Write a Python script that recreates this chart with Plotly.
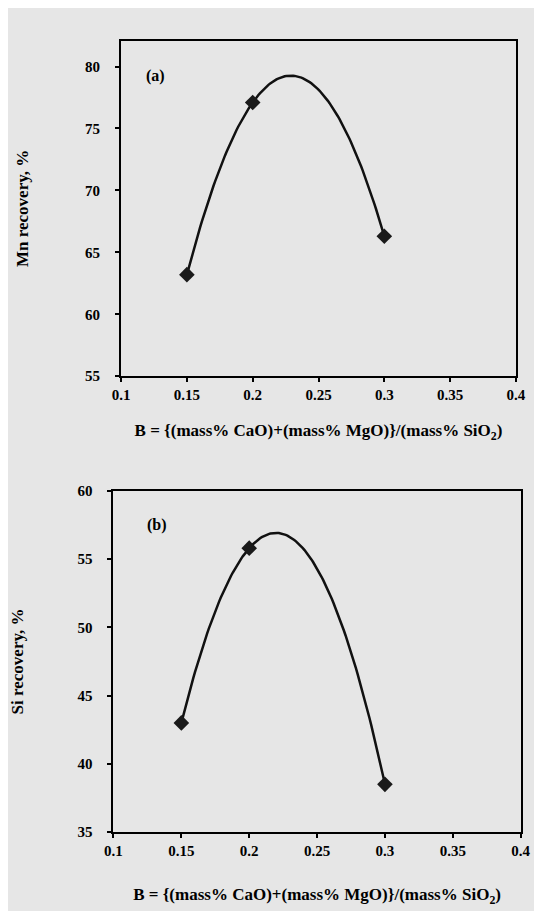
import numpy as np
import plotly.graph_objects as go

# data
basicity = [0.15, 0.2, 0.3]
mn_recovery = [63.2, 77.1, 66.3]
si_recovery = [43.0, 55.8, 38.5]

x_ticks = [0.1, 0.15, 0.2, 0.25, 0.3, 0.35, 0.4]
mn_ticks = [55, 60, 65, 70, 75, 80]
si_ticks = [35, 40, 45, 50, 55, 60]

x_title = "B = {(mass% CaO)+(mass% MgO)}/(mass% SiO<sub>2</sub>)"
FONT = "Liberation Serif, Times New Roman, serif"


def trend(x, y):
    # 2nd order polynomial trendline, drawn over the data span
    coef = np.polyfit(x, y, 2)
    xs = np.linspace(min(x), max(x), 120)
    return xs, np.polyval(coef, xs)


fig = go.Figure()

for xa, ya, yvals in [("x", "y", mn_recovery), ("x2", "y2", si_recovery)]:
    tx, ty = trend(basicity, yvals)
    fig.add_trace(go.Scatter(
        x=tx, y=ty, mode="lines", xaxis=xa, yaxis=ya,
        line=dict(color="#111111", width=2.5), hoverinfo="skip"
    ))
    fig.add_trace(go.Scatter(
        x=basicity, y=yvals, mode="markers", xaxis=xa, yaxis=ya,
        marker=dict(symbol="diamond", size=12, color="#1a1a1a")
    ))

tick_font = dict(family=FONT, size=15, color="black", weight="bold")
title_font = dict(family=FONT, size=17, color="black")

axis_common = dict(
    showline=True, linecolor="black", linewidth=2, mirror=True,
    ticks="outside", ticklen=4, tickwidth=1.5, tickcolor="black",
    showgrid=False, zeroline=False,
    tickfont=tick_font,
)

fig.update_layout(
    width=542, height=911,
    margin=dict(l=0, r=0, t=0, b=0),
    paper_bgcolor="#e6e6e6",
    plot_bgcolor="#e6e6e6",
    showlegend=False,
    font=dict(family=FONT, color="black"),
    xaxis=dict(
        axis_common, domain=[0.199, 0.954], anchor="y",
        range=[0.1, 0.4], tickvals=x_ticks,
        title=dict(text="<b>" + x_title + "</b>", standoff=22, font=title_font),
    ),
    yaxis=dict(
        axis_common, domain=[0.5975, 0.9726], anchor="x",
        range=[55, 82.1], tickvals=mn_ticks, ticklabelstandoff=12,
        title=dict(text="<b>Mn recovery, %</b>", standoff=52, font=title_font),
    ),
    xaxis2=dict(
        axis_common, domain=[0.1845, 0.963], anchor="y2",
        range=[0.1, 0.4], tickvals=x_ticks,
        title=dict(text="<b>" + x_title + "</b>", standoff=30, font=title_font),
    ),
    yaxis2=dict(
        axis_common, domain=[0.0881, 0.4695], anchor="x2",
        range=[35, 60], tickvals=si_ticks, ticklabelstandoff=12,
        title=dict(text="<b>Si recovery, %</b>", standoff=50, font=title_font),
    ),
)

# panel labels
fig.add_annotation(x=0.126, y=79.2, xref="x", yref="y", text="<b>(a)</b>",
                   showarrow=False, font=dict(family=FONT, size=16, color="black"))
fig.add_annotation(x=0.132, y=57.5, xref="x2", yref="y2", text="<b>(b)</b>",
                   showarrow=False, font=dict(family=FONT, size=16, color="black"))

fig.write_html("out.html")
